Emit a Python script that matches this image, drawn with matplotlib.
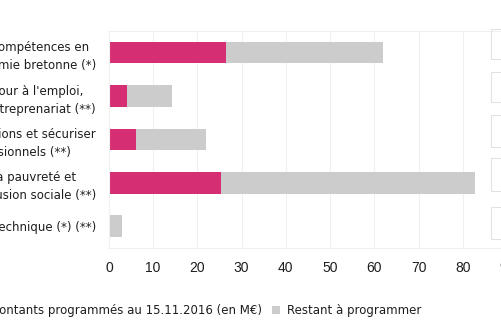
import matplotlib.pyplot as plt
from matplotlib.patches import Rectangle

plt.rcParams['font.family'] = ['DejaVu Sans']

# Programmation FSE par axe (en M€)
axes_labels = [
    "Développer les compétences en\nlien avec l'économie bretonne (*)",
    "Favoriser le retour à l'emploi,\net soutenir l'entreprenariat (**)",
    "Anticiper les mutations et sécuriser\nles parcours professionnels (**)",
    "Lutter contre la pauvreté et\nfavoriser l'inclusion sociale (**)",
    "Assistance technique (*) (**)",
]
programme = [26.5, 4.1, 6.1, 25.3, 0.3]
total = [62.0, 14.3, 22.0, 82.8, 2.9]
restant = [t - p for t, p in zip(total, programme)]

rose = '#d62e72'
gris = '#cccccc'

fig = plt.figure(figsize=(5.02, 3.29), dpi=100)
ax = fig.add_axes([0.217, 0.246, 0.793, 0.66])

y = range(len(axes_labels))
ax.barh(y, programme, height=0.5, color=rose, label='Montants programmés au 15.11.2016 (en M€)')
ax.barh(y, restant, left=programme, height=0.5, color=gris, label='Restant à programmer')

ax.set_xlim(0, 90)
ax.set_ylim(4.5, -0.5)
ax.set_xticks(range(0, 100, 10))
ax.set_xticklabels([str(v) for v in range(0, 100, 10)], family='Liberation Sans')
ax.set_yticks(list(y))
ax.set_yticklabels(axes_labels, fontsize=8.5, multialignment='left', color='#1e1e1e',
                   linespacing=1.5)
ax.tick_params(axis='x', labelsize=10, pad=9, length=0, colors='#1e1e1e')
ax.tick_params(axis='y', length=0, pad=9.4)
ax.grid(axis='x', color='#f0f0f0', linewidth=0.8)
ax.set_axisbelow(True)
for s in ax.spines.values():
    s.set_color('#f0f0f0')
    s.set_linewidth(0.8)

fig.legend(loc='center right', bbox_to_anchor=(427 / 502, 0.055), ncol=2, frameon=False,
           borderpad=0, fontsize=8.5, handlelength=0.68, handleheight=0.68,
           handletextpad=0.55, columnspacing=0.9, labelcolor='#1e1e1e')

# cadres du panneau voisin
for y0, y1 in [(29, 59), (72, 102), (115, 147), (158, 191), (207, 239)]:
    fig.patches.append(Rectangle((491 / 502, 1 - y1 / 329), 0.05, (y1 - y0) / 329,
                                 transform=fig.transFigure, fill=False,
                                 edgecolor='#e2e2e2', linewidth=0.8))

fig.savefig('out.png', dpi=100)
